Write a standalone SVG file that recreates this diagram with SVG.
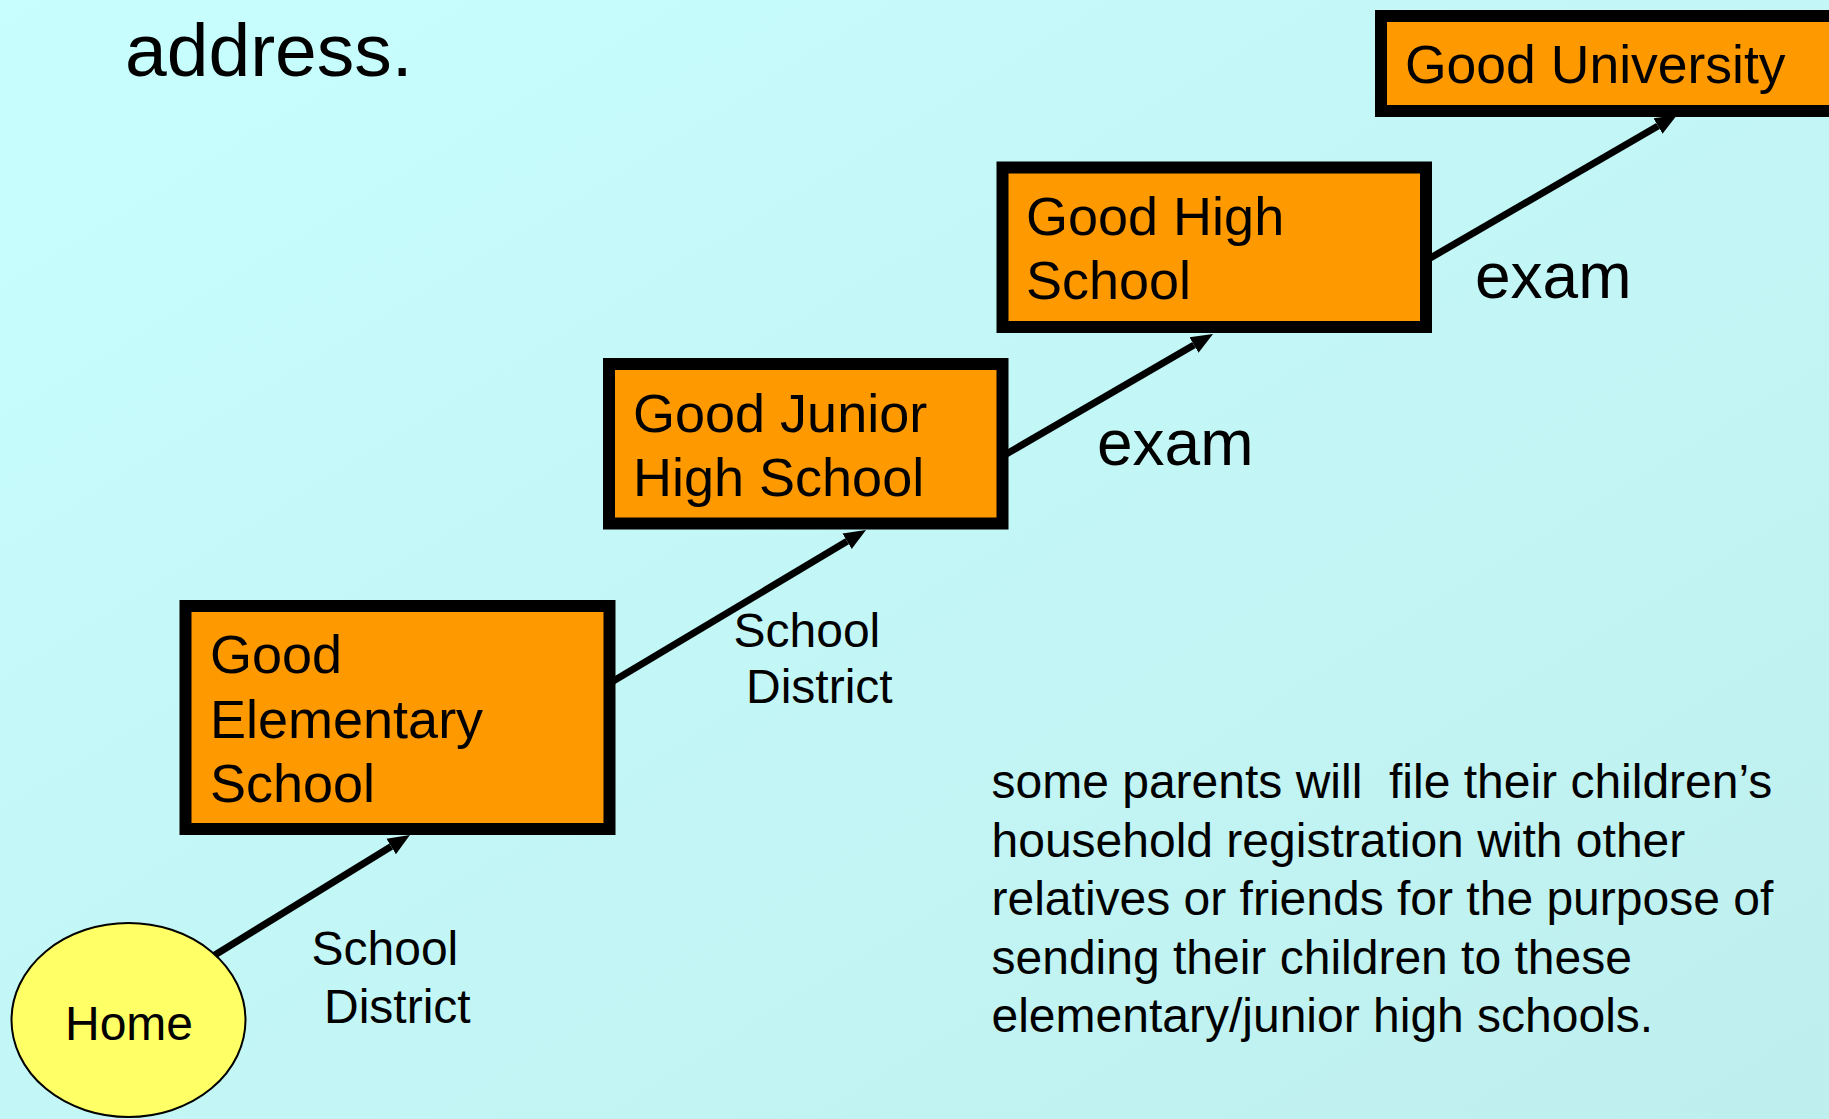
<svg xmlns="http://www.w3.org/2000/svg" width="1829" height="1119" viewBox="0 0 1829 1119">
<defs>
<linearGradient id="bg" x1="0" y1="0" x2="1" y2="1">
<stop offset="0" stop-color="#C8FEFE"/>
<stop offset="1" stop-color="#BEEFEE"/>
</linearGradient>
<marker id="ah" markerUnits="userSpaceOnUse" markerWidth="24" markerHeight="20" viewBox="0 -10 24 20" refX="0" refY="0" orient="auto">
<path d="M0,-9 L22,0 L0,9 z" fill="#000"/>
</marker>
</defs>
<style>
text{font-family:"Liberation Sans",Arial,sans-serif;fill:#000}
.box{fill:#FF9900;stroke:#000;stroke-width:12}
.bt{font-size:54px}
.sm{font-size:48px}
.ex{font-size:64px}
.conn{stroke:#000;stroke-width:7;fill:none;marker-end:url(#ah)}
</style>
<rect x="0" y="0" width="1829" height="1119" fill="url(#bg)"/>
<text x="125" y="76" style="font-size:75px">address.</text>
<g id="connectors">
<line class="conn" x1="210" y1="958" x2="391.2" y2="846.5"/>
<line class="conn" x1="610" y1="683" x2="847.1" y2="541.3"/>
<line class="conn" x1="1002" y1="456.5" x2="1194" y2="345"/>
<line class="conn" x1="1426" y1="260.5" x2="1658" y2="126"/>
</g>
<g id="home">
<ellipse cx="128.5" cy="1020" rx="117" ry="97" fill="#FFFF66" stroke="#000" stroke-width="2"/>
<text class="sm" x="65" y="1040">Home</text>
</g>
<g id="elementary">
<rect class="box" x="185.5" y="606" width="424" height="223"/>
<text class="bt" x="210" y="673">Good</text>
<text class="bt" x="210" y="738">Elementary</text>
<text class="bt" x="210" y="802">School</text>
</g>
<g id="junior">
<rect class="box" x="609" y="364" width="393.5" height="159.5"/>
<text class="bt" x="633" y="432">Good Junior</text>
<text class="bt" x="633" y="496">High School</text>
</g>
<g id="high">
<rect class="box" x="1002.5" y="167.5" width="423.5" height="159.5"/>
<text class="bt" x="1026" y="235">Good High</text>
<text class="bt" x="1026" y="299">School</text>
</g>
<g id="university">
<rect class="box" x="1381" y="16" width="470" height="95"/>
<text class="bt" x="1405" y="83" style="font-size:53.5px">Good University</text>
</g>
<g id="labels">
<text class="sm" x="311.5" y="965">School</text>
<text class="sm" x="324" y="1023">District</text>
<text class="sm" x="733.5" y="647">School</text>
<text class="sm" x="746" y="703">District</text>
<text class="ex" x="1097" y="465">exam</text>
<text class="ex" x="1475" y="298">exam</text>
</g>
<g id="note">
<text class="sm" x="991.5" y="798" xml:space="preserve">some parents will  file their children’s</text>
<text class="sm" x="991.5" y="856.5">household registration with other</text>
<text class="sm" x="991.5" y="915">relatives or friends for the purpose of</text>
<text class="sm" x="991.5" y="973.5">sending their children to these</text>
<text class="sm" x="991.5" y="1032">elementary/junior high schools.</text>
</g>
</svg>
